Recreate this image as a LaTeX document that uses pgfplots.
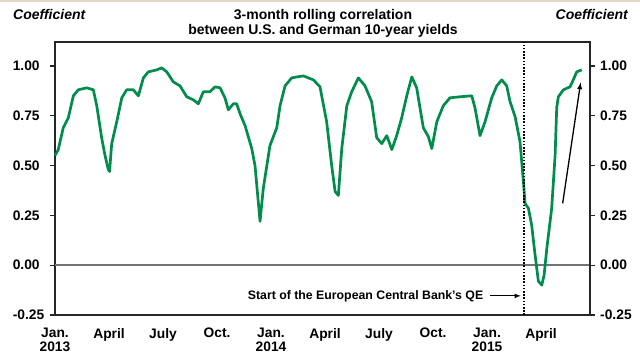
\documentclass[border=0pt]{standalone}
\usepackage{fontspec}
\setmainfont{Liberation Sans}
\usepackage{pgfplots}
\pgfplotsset{compat=1.18}
\definecolor{lineg}{RGB}{0,140,75}
\definecolor{beige}{RGB}{228,214,196}
\newcommand{\tfont}{\fontsize{13.8bp}{14bp}\selectfont\bfseries}
\begin{document}
\begin{tikzpicture}[x=1bp,y=1bp]
\path[use as bounding box] (0,0) rectangle (640,354);
\fill[beige] (0,352) rectangle (640,354);
\begin{axis}[
 at={(55bp,39bp)}, anchor=south west,
 width=535bp, height=273bp, scale only axis,
 xmin=0, xmax=29.72, ymin=-0.25, ymax=1.12,
 axis line style={line width=1.3bp, black!85},
 xtick={0,3,6,9,12,15,18,21,24,27},
 xticklabels={{Jan.\\2013},April,July,Oct.,{Jan.\\2014},April,July,Oct.,{Jan.\\2015},April},
 xticklabel style={align=center, font=\tfont, inner sep=0pt, yshift=-8bp},
 x tick style={draw=none},
 ytick={-0.25,0,0.25,0.5,0.75,1},
 ytick pos=left,
 tick align=outside, major tick length=5bp,
 y tick style={line width=1.3bp, black!85},
 yticklabel style={font=\tfont, inner sep=0pt, text width=36bp, align=left, xshift=-1bp,
   /pgf/number format/fixed, /pgf/number format/fixed zerofill,
   /pgf/number format/precision=2, /pgf/number format/assume math mode=true},
 clip=false,
]
\draw[line width=1.5bp, black!55] (axis cs:0,0) -- (axis cs:29.72,0);
\addplot[lineg, line width=2.7bp, line join=round] coordinates {
(0,0.55) (0.18,0.58) (0.46,0.69) (0.74,0.74) (1.02,0.85) (1.29,0.88) (1.76,0.89) (2.13,0.88)
(2.32,0.80) (2.59,0.64) (2.78,0.55) (2.96,0.48) (3.03,0.47) (3.15,0.61) (3.43,0.72) (3.71,0.84)
(3.98,0.88) (4.35,0.88) (4.63,0.85) (4.91,0.94) (5.18,0.97) (5.65,0.98) (5.93,0.99) (6.21,0.97)
(6.57,0.92) (6.94,0.90) (7.32,0.845) (7.68,0.83) (7.96,0.81) (8.24,0.87) (8.61,0.87) (8.89,0.895)
(9.17,0.89) (9.44,0.84) (9.63,0.78) (9.91,0.81) (10.09,0.81) (10.28,0.76) (10.56,0.70) (10.93,0.585)
(11.11,0.50) (11.39,0.22) (11.57,0.385) (11.94,0.60) (12.32,0.69) (12.5,0.80) (12.78,0.90) (13.15,0.94)
(13.79,0.95) (14.35,0.93) (14.72,0.895) (15.09,0.72) (15.37,0.50) (15.56,0.37) (15.74,0.35) (15.93,0.585)
(16.21,0.80) (16.48,0.87) (16.85,0.94) (17.22,0.90) (17.59,0.82) (17.87,0.64) (18.15,0.61) (18.43,0.65)
(18.71,0.58) (18.98,0.65) (19.26,0.74) (19.54,0.85) (19.82,0.945) (20.09,0.89) (20.46,0.69) (20.74,0.645)
(20.93,0.585) (21.21,0.72) (21.57,0.80) (21.94,0.84) (22.5,0.845) (23.15,0.85) (23.33,0.79) (23.61,0.65)
(23.89,0.72) (24.26,0.84) (24.54,0.90) (24.82,0.93) (25.09,0.90) (25.28,0.82) (25.56,0.745) (25.83,0.62)
(26.02,0.42) (26.11,0.31) (26.3,0.285) (26.48,0.20) (26.67,0.05) (26.85,-0.08) (27.04,-0.10) (27.17,-0.05)
(27.32,0.084) (27.59,0.285) (27.78,0.55) (27.87,0.79) (27.96,0.845) (28.24,0.88) (28.61,0.895) (28.79,0.93)
(28.98,0.97) (29.26,0.98)
};
\draw[black, line width=2bp, dash pattern=on 1.6bp off 1.6bp] (axis cs:26.07,-0.25) -- (axis cs:26.07,1.12);
\node[font=\fontsize{12.3bp}{13bp}\selectfont\bfseries, anchor=base east, inner sep=0pt] at (axis cs:23.8,-0.171) {Start of the European Central Bank's QE};
\draw[black, line width=1.1bp, -{latex}] (axis cs:24.17,-0.154) -- (axis cs:25.87,-0.154);
\draw[black, line width=1.3bp, -{latex}] (axis cs:28.2,0.31) -- (axis cs:29.2,0.917);
\end{axis}
\begin{axis}[
 at={(55bp,39bp)}, anchor=south west,
 width=535bp, height=273bp, scale only axis,
 xmin=0, xmax=29.72, ymin=-0.25, ymax=1.12,
 axis x line=none, axis y line*=right,
 axis line style={line width=1.3bp, black!85, -},
 ytick={-0.25,0,0.25,0.5,0.75,1},
 tick align=outside, major tick length=5bp,
 y tick style={line width=1.3bp, black!85},
 yticklabel style={font=\tfont, inner sep=0pt, anchor=west, xshift=5bp,
   /pgf/number format/fixed, /pgf/number format/fixed zerofill,
   /pgf/number format/precision=2, /pgf/number format/assume math mode=true},
]
\end{axis}
\node[font=\fontsize{14bp}{15bp}\selectfont\bfseries\itshape, anchor=base west, inner sep=0pt] at (13,335) {Coefficient};
\node[font=\fontsize{14bp}{15bp}\selectfont\bfseries\itshape, anchor=base east, inner sep=0pt] at (628,335) {Coefficient};
\node[font=\fontsize{14bp}{15bp}\selectfont\bfseries, anchor=base, inner sep=0pt] at (323,335) {3-month rolling correlation};
\node[font=\fontsize{14bp}{15bp}\selectfont\bfseries, anchor=base, inner sep=0pt] at (323,320) {between U.S. and German 10-year yields};
\end{tikzpicture}
\end{document}
